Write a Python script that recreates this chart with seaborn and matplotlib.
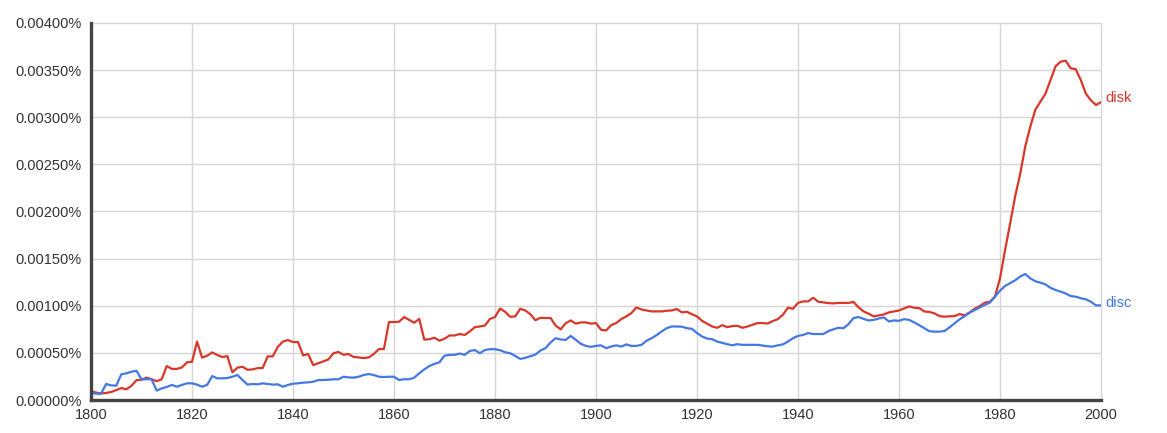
import numpy as np
import pandas as pd
import matplotlib
matplotlib.use("Agg")
import matplotlib.pyplot as plt
import seaborn as sns
from matplotlib.ticker import FuncFormatter, MultipleLocator

# Values are in units of 0.0001 % (i.e. 1.0 -> 0.00010%)
years = list(range(1800, 2001))

disk = [
    0.95, 0.78, 0.70, 0.75, 0.85, 1.05, 1.27, 1.13, 1.50, 2.10,
    2.15, 2.37, 2.20, 2.00, 2.20, 3.60, 3.30, 3.30, 3.45, 4.00,
    4.05, 6.20, 4.50, 4.70, 5.05, 4.77, 4.56, 4.66, 2.93, 3.43,
    3.53, 3.20, 3.25, 3.38, 3.40, 4.63, 4.63, 5.65, 6.20, 6.36,
    6.15, 6.15, 4.73, 4.88, 3.70, 3.90, 4.10, 4.30, 4.95, 5.10,
    4.80, 4.88, 4.56, 4.52, 4.45, 4.52, 4.88, 5.40, 5.40, 8.27,
    8.27, 8.30, 8.80, 8.50, 8.20, 8.60, 6.40, 6.45, 6.60, 6.30,
    6.50, 6.85, 6.85, 7.00, 6.90, 7.27, 7.73, 7.80, 7.90, 8.60,
    8.80, 9.70, 9.36, 8.83, 8.87, 9.68, 9.50, 9.10, 8.47, 8.72,
    8.70, 8.70, 7.90, 7.50, 8.15, 8.44, 8.10, 8.23, 8.23, 8.10,
    8.16, 7.45, 7.38, 7.94, 8.16, 8.58, 8.87, 9.22, 9.82, 9.60,
    9.50, 9.40, 9.40, 9.40, 9.47, 9.50, 9.65, 9.30, 9.36, 9.10,
    8.87, 8.40, 8.10, 7.80, 7.66, 7.94, 7.73, 7.84, 7.87, 7.66,
    7.80, 7.98, 8.16, 8.16, 8.12, 8.37, 8.58, 9.04, 9.79, 9.68,
    10.30, 10.46, 10.46, 10.85, 10.43, 10.36, 10.28, 10.25, 10.30, 10.30,
    10.30, 10.40, 9.82, 9.40, 9.15, 8.87, 8.97, 9.08, 9.30, 9.40,
    9.50, 9.72, 9.93, 9.79, 9.75, 9.40, 9.34, 9.20, 8.90, 8.84,
    8.88, 8.90, 9.12, 8.98, 9.30, 9.69, 9.97, 10.33, 10.43, 10.96,
    12.90, 15.90, 18.70, 21.60, 24.00, 26.90, 29.00, 30.80, 31.65, 32.50,
    33.95, 35.40, 35.90, 36.00, 35.20, 35.10, 33.95, 32.50, 31.80, 31.30,
    31.60,
]

disc = [
    0.78, 0.67, 0.67, 1.70, 1.55, 1.52, 2.72, 2.83, 3.00, 3.10,
    2.20, 2.20, 2.20, 1.00, 1.23, 1.38, 1.60, 1.41, 1.60, 1.77,
    1.77, 1.63, 1.41, 1.60, 2.54, 2.30, 2.30, 2.33, 2.47, 2.65,
    2.12, 1.63, 1.70, 1.66, 1.77, 1.70, 1.63, 1.66, 1.41, 1.60,
    1.73, 1.77, 1.84, 1.87, 1.94, 2.12, 2.12, 2.15, 2.20, 2.20,
    2.47, 2.40, 2.37, 2.47, 2.65, 2.76, 2.65, 2.47, 2.44, 2.47,
    2.47, 2.12, 2.20, 2.20, 2.37, 2.83, 3.25, 3.60, 3.83, 4.00,
    4.70, 4.79, 4.79, 4.93, 4.79, 5.20, 5.30, 4.96, 5.30, 5.39,
    5.39, 5.28, 5.07, 4.96, 4.68, 4.36, 4.47, 4.64, 4.82, 5.25,
    5.50, 6.10, 6.56, 6.42, 6.38, 6.80, 6.38, 5.96, 5.74, 5.64,
    5.74, 5.80, 5.50, 5.67, 5.80, 5.67, 5.90, 5.74, 5.74, 5.85,
    6.28, 6.56, 6.88, 7.27, 7.62, 7.80, 7.80, 7.77, 7.62, 7.55,
    7.10, 6.74, 6.52, 6.45, 6.20, 6.06, 5.92, 5.80, 5.92, 5.85,
    5.85, 5.85, 5.85, 5.78, 5.70, 5.67, 5.80, 5.90, 6.20, 6.56,
    6.80, 6.90, 7.10, 7.00, 7.00, 7.00, 7.30, 7.50, 7.66, 7.62,
    8.05, 8.70, 8.80, 8.60, 8.44, 8.50, 8.65, 8.76, 8.33, 8.44,
    8.40, 8.58, 8.50, 8.23, 7.94, 7.62, 7.30, 7.25, 7.25, 7.32,
    7.70, 8.13, 8.56, 8.90, 9.27, 9.55, 9.83, 10.10, 10.33, 10.96,
    11.60, 12.10, 12.40, 12.70, 13.10, 13.37, 12.90, 12.60, 12.45, 12.27,
    11.90, 11.67, 11.50, 11.30, 11.03, 10.96, 10.80, 10.68, 10.43, 10.04,
    10.04,
]

series_names = ["disk", "disc"]
colors = {"disk": "#d8372a", "disc": "#4478e2"}

df = pd.concat([
    pd.DataFrame({"year": years, "freq": np.array(disk) * 1e-4, "term": "disk"}),
    pd.DataFrame({"year": years, "freq": np.array(disc) * 1e-4, "term": "disc"}),
])

sns.set_theme(style="white")
plt.rcParams["font.family"] = ["Liberation Sans", "DejaVu Sans"]

fig = plt.figure(figsize=(11.67, 4.33), dpi=100)
ax = fig.add_axes([91 / 1167, 1 - 400 / 433, (1101 - 91) / 1167, (400 - 23) / 433])

sns.lineplot(data=df, x="year", y="freq", hue="term", hue_order=series_names,
             palette=colors, linewidth=1.6, legend=False, ax=ax)

ax.set_xlim(1800, 2000)
ax.set_ylim(0, 0.004)
ax.xaxis.set_major_locator(MultipleLocator(20))
ax.yaxis.set_major_locator(MultipleLocator(0.0005))
ax.yaxis.set_major_formatter(FuncFormatter(lambda v, p: f"{v:.5f}%"))
ax.set_xlabel("")
ax.set_ylabel("")

ax.grid(True, color="#d6d6d6", linewidth=1.0)
ax.set_axisbelow(True)
for g in ax.get_xgridlines() + ax.get_ygridlines():
    g.set_clip_on(False)

for s in ["top", "right"]:
    ax.spines[s].set_visible(False)
for s in ["left", "bottom"]:
    ax.spines[s].set_color("#444444")
    ax.spines[s].set_linewidth(2.4)

ax.tick_params(axis="both", which="major", direction="out", length=4, width=1.8,
               color="#444444", labelsize=10.5, labelcolor="#333333", pad=3)
ax.tick_params(axis="x", pad=2)

label_offsets = {"disk": (3, 3), "disc": (3, 1.5)}
for name, vals in (("disk", disk), ("disc", disc)):
    ax.annotate(name, xy=(years[-1], vals[-1] * 1e-4), xytext=label_offsets[name],
                textcoords="offset points", va="center", ha="left",
                color=colors[name], fontsize=10.5, annotation_clip=False)

fig.savefig("out.png", dpi=100, facecolor="white")
